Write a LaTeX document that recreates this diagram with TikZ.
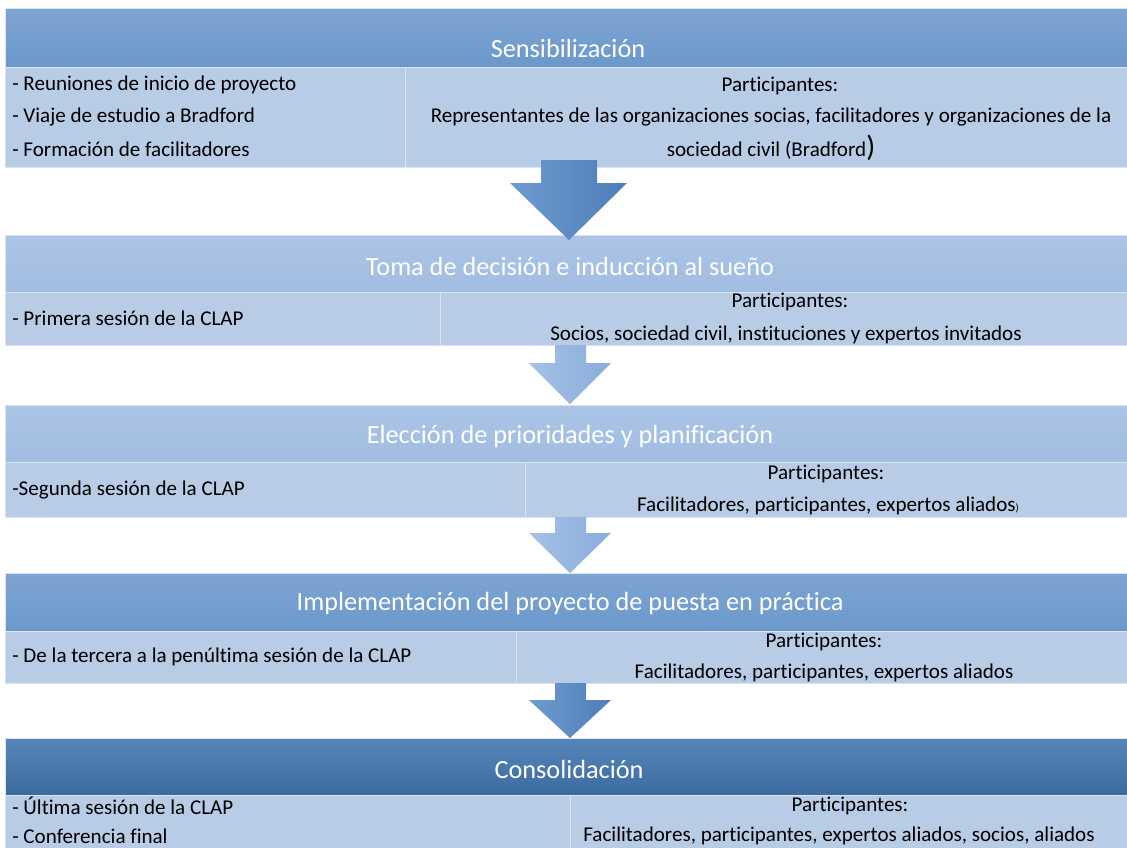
\documentclass[tikz,border=0pt]{standalone}
\usepackage{fontspec}
\setmainfont{Carlito}[Ligatures=NoCommon]
\usetikzlibrary{fit}
\definecolor{bodyc}{HTML}{B8CCE6}
\definecolor{edgec}{HTML}{DAE4F2}
\definecolor{hAt}{HTML}{7DA5D2}
\definecolor{hAb}{HTML}{6B98CB}
\definecolor{hBt}{HTML}{ABC4E6}
\definecolor{hBb}{HTML}{A2BDE2}
\definecolor{hDt}{HTML}{5686B9}
\definecolor{hDb}{HTML}{3C6BA0}
\definecolor{aAl}{HTML}{6E9BD0}
\definecolor{aAr}{HTML}{4E7EB8}
\definecolor{aBl}{HTML}{A6C2E6}
\definecolor{aBr}{HTML}{88ACDA}
\tikzset{
  cell/.style={fill=bodyc, draw=edgec, line width=0.6pt, inner sep=0pt},
  hdr/.style={draw=edgec, line width=0.6pt, inner sep=0pt},
  ttl/.style={text=white, font=\fontsize{19.7}{23}\selectfont, inner sep=0pt},
  txt/.style={text=black, font=\fontsize{15.8}{18}\selectfont, inner sep=0pt},
}
\begin{document}
\begin{tikzpicture}[x=0.75pt,y=-0.75pt]
\useasboundingbox (0,0) rectangle (1127,847);
\fill[white] (0,0) rectangle (1127,847);

% ---------- Section 1 ----------
\node[hdr, fit={(5,8)(1132,67)}, top color=hAt, bottom color=hAb] (h1) {};
\node[cell, fit={(5,67)(405,167)}] (b1l) {};
\node[cell, fit={(405,67)(1132,167)}] (b1r) {};
\node[ttl] (t1) at (568,48) {Sensibilización};
\node[txt, anchor=west] (l1a) at (12,85) {- Reuniones de inicio de proyecto};
\node[txt, anchor=west] (l1b) at (12,117) {- Viaje de estudio a Bradford};
\node[txt, anchor=west] (l1c) at (12,149) {- Formación de facilitadores};
\node[txt] (p1) at (780,86) {Participantes:};
\node[txt] (r1a) at (771,117) {Representantes de las organizaciones socias, facilitadores y organizaciones de la};
\node[txt] (r1b) at (771,148) {sociedad civil (Bradford{\fontsize{22}{23}\selectfont )}};

% ---------- Section 2 ----------
\node[hdr, fit={(5,235)(1132,292)}, top color=hBt, bottom color=hBb] (h2) {};
\node[cell, fit={(5,292)(440,345)}] (b2l) {};
\node[cell, fit={(440,292)(1132,345)}] (b2r) {};
\node[ttl] (t2) at (570,266) {Toma de decisión e inducción al sueño};
\node[txt, anchor=west] (l2a) at (12,318) {- Primera sesión de la CLAP};
\node[txt] (p2) at (790,302) {Participantes:};
\node[txt] (r2a) at (786,335) {Socios, sociedad civil, instituciones y expertos invitados};

% ---------- Section 3 ----------
\node[hdr, fit={(5,405)(1132,462)}, top color=hBt, bottom color=hBb] (h3) {};
\node[cell, fit={(5,462)(525,517)}] (b3l) {};
\node[cell, fit={(525,462)(1132,517)}] (b3r) {};
\node[ttl] (t3) at (570,436) {Elección de prioridades y planificación};
\node[txt, anchor=west] (l3a) at (12,490) {-Segunda sesión de la CLAP};
\node[txt] (p3) at (826,474) {Participantes:};
\node[txt] (r3a) at (828,506) {Facilitadores, participantes, expertos aliados{\fontsize{8}{9}\selectfont )}};

% ---------- Section 4 ----------
\node[hdr, fit={(5,573)(1132,631)}, top color=hAt, bottom color=hAb] (h4) {};
\node[cell, fit={(5,631)(516,683)}] (b4l) {};
\node[cell, fit={(516,631)(1132,683)}] (b4r) {};
\node[ttl] (t4) at (570,603) {Implementación del proyecto de puesta en práctica};
\node[txt, anchor=west] (l4a) at (12,657) {- De la tercera a la penúltima sesión de la CLAP};
\node[txt] (p4) at (824,642) {Participantes:};
\node[txt] (r4a) at (824,673) {Facilitadores, participantes, expertos aliados};

% ---------- Section 5 ----------
\node[hdr, fit={(5,738)(1132,795)}, top color=hDt, bottom color=hDb] (h5) {};
\node[cell, fit={(5,795)(570,852)}] (b5l) {};
\node[cell, fit={(570,795)(1132,852)}] (b5r) {};
\node[ttl] (t5) at (569,769) {Consolidación};
\node[txt, anchor=west] (l5a) at (12,806) {- Última sesión de la CLAP};
\node[txt, anchor=west] (l5b) at (12,836) {- Conferencia final};
\node[txt] (p5) at (850,806) {Participantes:};
\node[txt] (r5a) at (839,836) {Facilitadores, participantes, expertos aliados, socios, aliados};

% ---------- Block arrows ----------
\shade[left color=aAl, right color=aAr]
  (541,160) -- (597,160) -- (597,183) -- (627,183) -- (569,240) -- (510,183) -- (541,183) -- cycle;
\shade[left color=aBl, right color=aBr]
  (555,345) -- (586,345) -- (586,363) -- (611,363) -- (570,404) -- (529,363) -- (555,363) -- cycle;
\shade[left color=aBl, right color=aBr]
  (555,517) -- (586,517) -- (586,533) -- (611,533) -- (570,573) -- (529,533) -- (555,533) -- cycle;
\shade[left color=aAl, right color=aAr]
  (555,683) -- (586,683) -- (586,700) -- (611,700) -- (570,738) -- (529,700) -- (555,700) -- cycle;
\end{tikzpicture}
\end{document}
